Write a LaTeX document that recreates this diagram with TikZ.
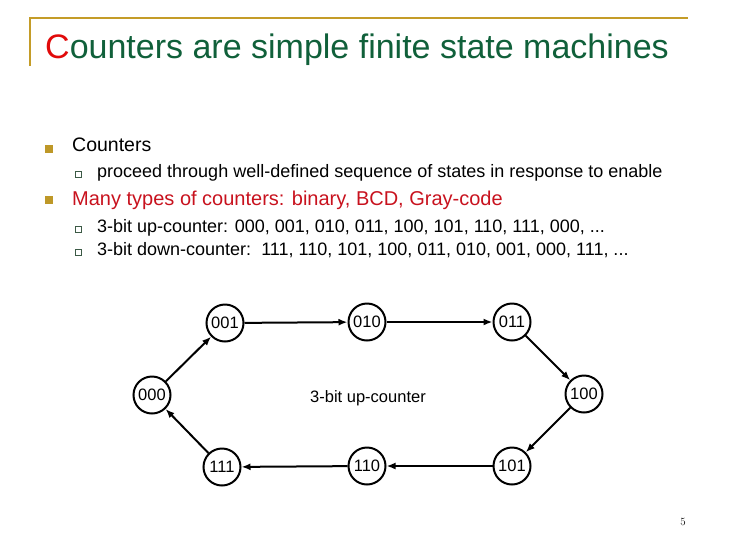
\documentclass[tikz,border=0pt]{standalone}
\usepackage{fontspec}
\setmainfont{Liberation Sans}
\usetikzlibrary{arrows.meta}
\definecolor{titlegreen}{RGB}{16,96,58}
\definecolor{gold}{RGB}{196,156,40}
\definecolor{bulletgold}{RGB}{190,152,40}
\definecolor{cred}{RGB}{225,10,10}
\definecolor{bodyred}{RGB}{200,18,30}
\definecolor{subbul}{RGB}{60,90,70}
\begin{document}
\begin{tikzpicture}[x=1pt,y=-1pt,
  state/.style={circle,draw,line width=2pt,minimum size=37pt,inner sep=0pt,font=\fontsize{16.5}{16.5}\selectfont},
  edge/.style={line width=2pt,-{Latex[length=9pt,width=7pt]}},
  mainbul/.style={fill=bulletgold,minimum size=7.5pt,inner sep=0pt},
  subbul/.style={draw=subbul,line width=0.9pt,minimum size=6pt,inner sep=0pt},
  txt/.style={anchor=base west,inner sep=0pt}]
\useasboundingbox (0,0) rectangle (730,547);
% frame
\draw[gold,line width=2.2pt] (30,66) -- (30,18) -- (688,18);
% title
\node[txt,text=titlegreen,font=\fontsize{34}{34}\selectfont] (title) at (45,58) {\textcolor{cred}{C}ounters are simple finite state machines};
% bullets
\node[mainbul] (b1) at (49,149) {};
\node[txt,font=\fontsize{19.5}{20}\selectfont] (t1) at (72,151) {Counters};
\node[subbul] (s1) at (78,174) {};
\node[txt,font=\fontsize{18}{18}\selectfont] (t2) at (97,177) {proceed through well-defined sequence of states in response to enable};
\node[mainbul] (b2) at (49,200) {};
\node[txt,text=bodyred,font=\fontsize{20}{20}\selectfont] (t3) at (72,205) {Many types of counters: binary, BCD, Gray-code};
\node[subbul] (s2) at (78,229) {};
\node[txt,font=\fontsize{18}{18}\selectfont] (t4) at (97,232) {3-bit up-counter: 000, 001, 010, 011, 100, 101, 110, 111, 000, ...};
\node[subbul] (s3) at (78,252) {};
\node[txt,font=\fontsize{18}{18}\selectfont] (t5) at (97,255) {3-bit down-counter:\ \ 111, 110, 101, 100, 011, 010, 001, 000, 111, ...};
% states
\node[state] (n000) at (152,395) {000};
\node[state] (n001) at (225,323) {001};
\node[state] (n010) at (367,322) {010};
\node[state] (n011) at (512,322) {011};
\node[state] (n100) at (584,394) {100};
\node[state] (n101) at (512,466) {101};
\node[state] (n110) at (367,466) {110};
\node[state] (n111) at (222,467) {111};
\node[font=\fontsize{16.5}{16.5}\selectfont] (lab) at (368,398) {3-bit up-counter};
\draw[edge] (n000) -- (n001);
\draw[edge] (n001) -- (n010);
\draw[edge] (n010) -- (n011);
\draw[edge] (n011) -- (n100);
\draw[edge] (n100) -- (n101);
\draw[edge] (n101) -- (n110);
\draw[edge] (n110) -- (n111);
\draw[edge] (n111) -- (n000);
% page number
\node[font=\fontfamily{lmr}\fontsize{11}{11}\selectfont] (pg) at (683,522) {5};
\end{tikzpicture}
\end{document}
